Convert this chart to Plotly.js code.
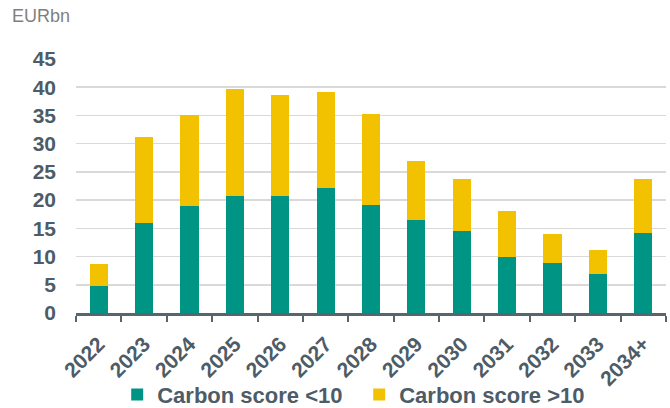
<!DOCTYPE html>
<html>
<head>
<meta charset="utf-8">
<script src="https://cdn.plot.ly/plotly-3.0.1.min.js"></script>
<style>
  html, body { margin: 0; padding: 0; background: #ffffff; }
  #chart { width: 670px; height: 408px; }
</style>
</head>
<body>
<div id="chart"></div>
<script>
// Maturity profile, EURbn, split by carbon score
const years = ['2022', '2023', '2024', '2025', '2026', '2027', '2028',
               '2029', '2030', '2031', '2032', '2033', '2034+'];
const lowCarbon  = [4.8, 16.0, 18.9, 20.8, 20.8, 22.2, 19.2, 16.4, 14.5, 10.0, 8.9, 6.9, 14.1];
const highCarbon = [3.8, 15.2, 16.2, 18.8, 17.8, 17.0, 16.0, 10.6, 9.2, 8.1, 5.1, 4.3, 9.7];
const yTicks = [0, 5, 10, 15, 20, 25, 30, 35, 40, 45];

const TEAL = '#009485';
const YELLOW = '#F2C200';
const INK = '#4D5C66';
const FONT = 'Liberation Sans, Arial, sans-serif';

const traces = [
  {
    type: 'bar', name: 'Carbon score <10', x: years, y: lowCarbon,
    marker: { color: TEAL, line: { width: 0 } },
    hoverinfo: 'x+y+name'
  },
  {
    type: 'bar', name: 'Carbon score >10', x: years, y: highCarbon,
    marker: { color: YELLOW, line: { width: 0 } },
    hoverinfo: 'x+y+name'
  }
];

const layout = {
  width: 670, height: 408,
  margin: { l: 76, r: 4, t: 59, b: 95, pad: 0, autoexpand: false },
  paper_bgcolor: '#ffffff', plot_bgcolor: '#ffffff',
  barmode: 'stack', bargap: 0.6,
  font: { family: FONT, color: INK },
  showlegend: true,
  legend: {
    orientation: 'h', x: 0.48, xanchor: 'center', y: -0.322, yanchor: 'middle',
    font: { family: FONT, size: 22, weight: 'bold', color: INK },
    traceorder: 'normal', itemwidth: 30, bgcolor: 'rgba(0,0,0,0)',
    entrywidth: 197, entrywidthmode: 'pixels'
  },
  xaxis: {
    type: 'category', tickangle: -45, automargin: false,
    tickfont: { family: FONT, size: 21, weight: 'bold', color: INK },
    showline: true, linecolor: '#56656E', linewidth: 2.5,
    ticks: 'outside', tickson: 'boundaries', ticklen: 6, tickwidth: 2, tickcolor: '#56656E',
    ticklabelstandoff: 8,
    showgrid: false, zeroline: false
  },
  yaxis: {
    range: [0, 45], tickvals: yTicks, ticktext: yTicks.map(String), automargin: false,
    tickfont: { family: FONT, size: 21, weight: 'bold', color: INK },
    showgrid: true, gridcolor: '#D9D9D9', gridwidth: 1.5,
    zeroline: false, showline: false, ticks: '', ticklabelstandoff: 19
  },
  annotations: [{
    text: 'EURbn', xref: 'paper', yref: 'paper', x: -0.112, y: 1.17,
    xanchor: 'left', yanchor: 'middle', showarrow: false,
    font: { family: FONT, size: 18, color: '#7F7F7F' }
  }]
};

Plotly.newPlot('chart', traces, layout, { displayModeBar: false, staticPlot: true });
</script>
</body>
</html>
